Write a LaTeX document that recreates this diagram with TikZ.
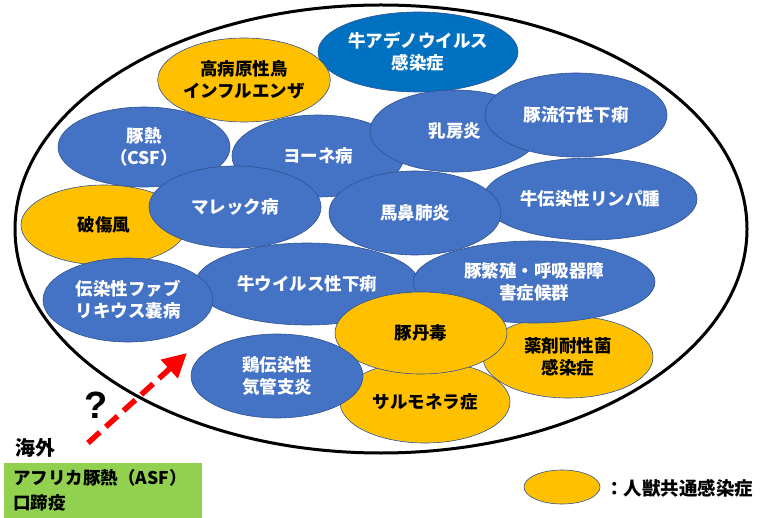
\documentclass[tikz,border=0pt]{standalone}
\usepackage{fontspec}
\setmainfont{Noto Sans CJK JP}
\newfontfamily\qfont{Liberation Sans}
\usetikzlibrary{shapes.geometric,arrows.meta}
\definecolor{bl}{HTML}{4472C4}
\definecolor{dbl}{HTML}{0070C0}
\definecolor{og}{HTML}{FFC000}
\definecolor{edgec}{HTML}{2F528F}
\definecolor{gr}{HTML}{92D050}
\definecolor{rd}{HTML}{FF0000}
\tikzset{
  dis/.style={ellipse, draw=edgec, line width=0.6pt, inner sep=0pt, align=center,
    font=\fontsize{17.5}{22}\selectfont\bfseries},
  bdis/.style={dis, fill=bl, text=white},
  ddis/.style={dis, fill=dbl, text=white},
  zdis/.style={dis, fill=og, text=black},
  lbl/.style={inner sep=0pt, font=\fontsize{18}{22}\selectfont\bfseries, text=black},
}
\begin{document}
\begin{tikzpicture}[x=1pt,y=-1pt]
\useasboundingbox (0,0) rectangle (773,518);
\node[draw=black, line width=3pt, ellipse, minimum width=732, minimum height=448, inner sep=0pt] (world) at (381,229) {};
\node[ddis, minimum width=200, minimum height=80] (adeno) at (418,52) {牛アデノウイルス\\感染症};
\node[zdis, minimum width=172, minimum height=84] (hpai) at (244,80) {高病原性鳥\\インフルエンザ};
\node[bdis, minimum width=172, minimum height=80] (csf) at (144,147) {豚熱\\（CSF）};
\node[zdis, minimum width=166, minimum height=80] (tet) at (104,225) {破傷風};
\node[bdis, minimum width=172, minimum height=82] (johne) at (318,156) {ヨーネ病};
\node[bdis, minimum width=170, minimum height=82] (mast) at (455,131) {乳房炎};
\node[bdis, minimum width=182, minimum height=84] (ped) at (576,115) {豚流行性下痢};
\node[bdis, minimum width=172, minimum height=82] (marek) at (235,207) {マレック病};
\node[bdis, minimum width=214, minimum height=82] (leuk) at (590,199) {牛伝染性リンパ腫};
\node[bdis, minimum width=172, minimum height=84] (rhino) at (415,213) {馬鼻肺炎};
\node[bdis, minimum width=224, minimum height=82] (bvd) at (307,284) {牛ウイルス性下痢};
\node[bdis, minimum width=170, minimum height=84] (ibd) at (128,300) {伝染性ファブ\\リキウス嚢病};
\node[zdis, minimum width=170, minimum height=82] (amr) at (568,357) {薬剤耐性菌\\感染症};
\node[bdis, minimum width=242, minimum height=82] (prrs) at (534,282) {豚繁殖・呼吸器障\\害症候群};
\node[zdis, minimum width=170, minimum height=82] (salm) at (425,402) {サルモネラ症};
\node[zdis, minimum width=172, minimum height=82] (ery) at (421,333) {豚丹毒};
\node[bdis, minimum width=172, minimum height=84] (ib) at (277,376) {鶏伝染性\\気管支炎};
% arrow from abroad
\coordinate (a0) at (88,443);
\coordinate (a1) at (187,353);
\draw[rd, line width=5.5pt, dash pattern=on 16pt off 8pt,
  -{Triangle[length=24pt,width=24pt]}] (a0) -- (a1);
\node[inner sep=0pt, font=\qfont\bfseries\fontsize{38}{40}\selectfont] (q) at (96,405) {?};
\node[lbl, font=\fontsize{20}{22}\selectfont\bfseries] (abroad) at (35,448) {海外};
\node[fill=gr, anchor=north west, minimum width=198, minimum height=55, inner xsep=9pt,
  text width=180pt, align=left, font=\fontsize{17.5}{25}\selectfont\bfseries] (asf) at (4,463)
  {アフリカ豚熱（ASF）\\口蹄疫};
% legend
\node[zdis, minimum width=76, minimum height=34] (leg) at (562,487) {};
\node[lbl, anchor=west, font=\fontsize{18.5}{22}\selectfont\bfseries] (legt) at (605,488) {：人獣共通感染症};
\end{tikzpicture}
\end{document}
